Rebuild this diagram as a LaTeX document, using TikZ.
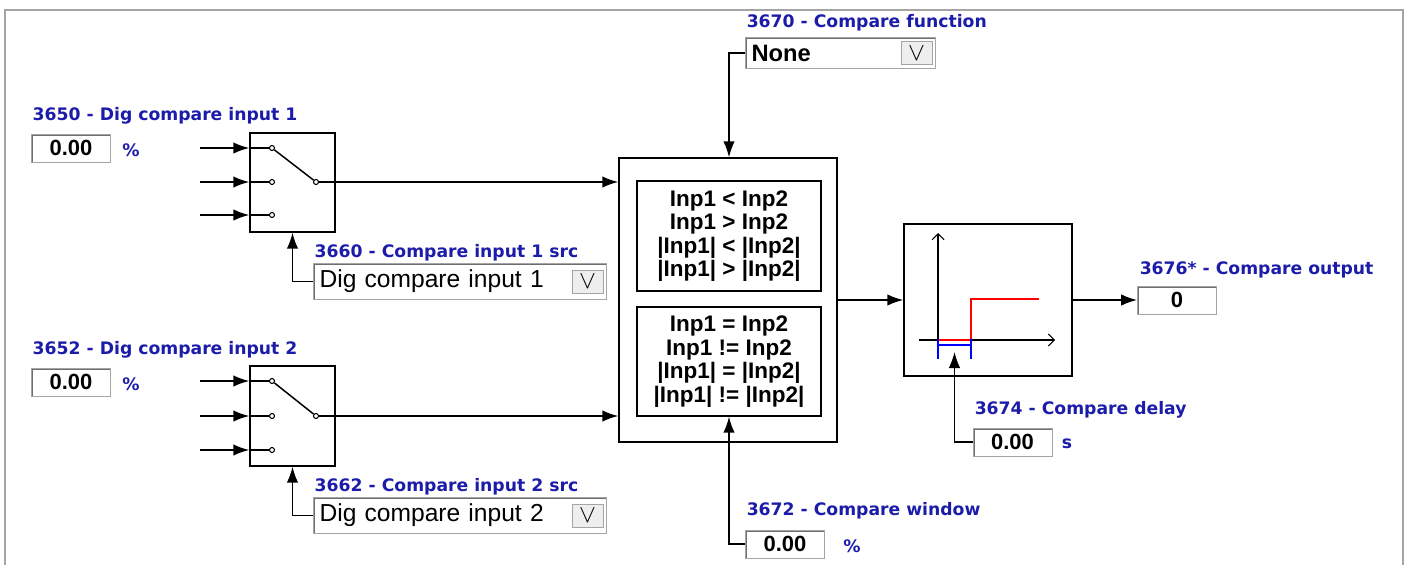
\documentclass[tikz,border=0pt]{standalone}
\usepackage{fontspec}
\setmainfont{Liberation Sans}
\newfontfamily\verdfont{DejaVu Sans}
\usetikzlibrary{arrows.meta}
\definecolor{lblblue}{RGB}{28,28,170}
\definecolor{framegray}{RGB}{165,165,165}
\definecolor{edgegray}{RGB}{110,110,110}
\definecolor{btngray}{RGB}{238,238,238}
\tikzset{
  blk/.style={draw, fill=white},
  inbox/.style={draw, align=center, inner sep=0pt, font=\bfseries\fontsize{12.8}{13.4}\selectfont},
  lbl/.style={anchor=west, inner sep=0pt, text=lblblue, font=\verdfont\bfseries\fontsize{9.8}{11}\selectfont},
  unit/.style={inner sep=0pt, text=lblblue, font=\verdfont\bfseries\fontsize{9.8}{11}\selectfont},
  sunken/.style={draw=framegray, fill=white, line width=0.5pt,
    path picture={\draw[line width=0.6mm, edgegray] (path picture bounding box.south west) -- (path picture bounding box.north west) -- (path picture bounding box.north east);}},
  field/.style={sunken, minimum width=1.58cm, minimum height=0.56cm, inner sep=0pt, font=\bfseries\fontsize{12.5}{14}\selectfont},
  dd/.style={sunken, minimum height=0.62cm, inner sep=0.13cm, align=left, font=\fontsize{14}{16}\selectfont},
  ddbtn/.style={draw=framegray, fill=btngray, line width=0.5pt, minimum width=0.62cm, minimum height=0.46cm, inner sep=0pt, font=\Large},
  pin/.style={circle, draw, fill=white, inner sep=0pt, minimum size=0.1cm, line width=0.6pt}
}
\begin{document}
\begin{tikzpicture}[x=0.02cm, y=-0.02cm, >={Latex[length=3.2mm,width=2.3mm]}, line width=0.85pt]
\useasboundingbox (0,0) rectangle (1404,565);
\draw[framegray, line width=0.4mm] (5,565) -- (5,10) -- (1403,10) -- (1403,565);

% input 1 and its selector
\node[lbl] (l3650) at (32,116) {3650 - Dig compare input 1};
\node[field] (f3650) at (71,148) {0.00};
\node[unit] (u3650) at (131,150) {\%};
\node[blk, minimum width=1.7cm, minimum height=1.98cm] (sw1) at (292.5,182.5) {};
\coordinate (i1a) at (200,148);
\coordinate (i1b) at (200,182);
\coordinate (i1c) at (200,215);
\draw[->] (i1a) -- (i1a -| sw1.west);
\draw[->] (i1b) -- (i1b -| sw1.west);
\draw[->] (i1c) -- (i1c -| sw1.west);
\draw (i1a -| sw1.west) -- (272,148);
\draw (i1b -| sw1.west) -- (272,182);
\draw (i1c -| sw1.west) -- (272,215);
\node[pin] (p1a) at (272,148) {};
\node[pin] (p1b) at (272,182) {};
\node[pin] (p1c) at (272,215) {};
\node[pin] (c1) at (316,182) {};
\draw (p1a) -- (c1);
\node[lbl] (l3660) at (314,253) {3660 - Compare input 1 src};
\node[dd, text width=5.6cm] (dd3660) at (459.5,281.5) {Dig compare input 1};
\node[ddbtn, anchor=east] (b3660) at ([xshift=-0.06cm]dd3660.east) {$\vee$};
\draw[->] (dd3660.west) -| (sw1.south);

% input 2 and its selector
\node[lbl] (l3652) at (32,350) {3652 - Dig compare input 2};
\node[field] (f3652) at (71,382) {0.00};
\node[unit] (u3652) at (131,384) {\%};
\node[blk, minimum width=1.7cm, minimum height=2cm] (sw2) at (292.5,416) {};
\coordinate (i2a) at (200,381);
\coordinate (i2b) at (200,416);
\coordinate (i2c) at (200,450);
\draw[->] (i2a) -- (i2a -| sw2.west);
\draw[->] (i2b) -- (i2b -| sw2.west);
\draw[->] (i2c) -- (i2c -| sw2.west);
\draw (i2a -| sw2.west) -- (272,381);
\draw (i2b -| sw2.west) -- (272,416);
\draw (i2c -| sw2.west) -- (272,450);
\node[pin] (p2a) at (272,381) {};
\node[pin] (p2b) at (272,416) {};
\node[pin] (p2c) at (272,450) {};
\node[pin] (c2) at (316,416) {};
\draw (p2a) -- (c2);
\node[lbl] (l3662) at (314,487) {3662 - Compare input 2 src};
\node[dd, text width=5.6cm] (dd3662) at (459.5,515.5) {Dig compare input 2};
\node[ddbtn, anchor=east] (b3662) at ([xshift=-0.06cm]dd3662.east) {$\vee$};
\draw[->] (dd3662.west) -| (sw2.south);

% comparator
\node[blk, minimum width=4.36cm, minimum height=5.68cm] (cmp) at (728,300) {};
\node[inbox, minimum width=3.68cm, minimum height=2.2cm] (cmpA) at (729,236) {Inp1 < Inp2\\Inp1 > Inp2\\|Inp1| < |Inp2|\\|Inp1| > |Inp2|};
\node[inbox, minimum width=3.68cm, minimum height=2.18cm] (cmpB) at (729,361.5) {Inp1 = Inp2\\Inp1 != Inp2\\|Inp1| = |Inp2|\\|Inp1| != |Inp2|};
\draw[->] (c1) -- (c1 -| cmp.west);
\draw[->] (c2) -- (c2 -| cmp.west);

\node[lbl] (l3670) at (746,23) {3670 - Compare function};
\node[dd, text width=3.54cm, font=\bfseries\fontsize{13.5}{15}\selectfont] (dd3670) at (840,53) {None};
\node[ddbtn, anchor=east] (b3670) at ([xshift=-0.06cm]dd3670.east) {$\vee$};
\draw[->] (dd3670.west) -| (cmpA.north |- cmp.north);

\node[lbl] (l3672) at (746,511) {3672 - Compare window};
\node[field] (f3672) at (785,544) {0.00};
\node[unit] (u3672) at (852,546) {\%};
\draw[->] (f3672.west) -| (cmpB.south);

% delay
\node[blk, minimum width=3.36cm, minimum height=3.04cm] (dly) at (988,300) {};
\draw[->] (cmp) -- (dly);
\draw[-{Straight Barb[length=1.2mm,width=2.4mm]}, line width=0.6pt] (919,340) -- (1055,340);
\draw[-{Straight Barb[length=1.2mm,width=2.4mm]}, line width=0.6pt] (938,340) -- (938,233);
\draw[red, line width=1.2pt] (938,340) -- (971,340) -- (971,299) -- (1039,299);
\draw[blue, line width=1.2pt] (938,339) -- (938,359) (971,339) -- (971,359) (938,345) -- (971,345);
\coordinate (dlyin) at (954.5,352);

\node[lbl] (l3674) at (974,410) {3674 - Compare delay};
\node[field] (f3674) at (1012.5,442) {0.00};
\node[unit] (u3674) at (1067,444) {s};
\draw[->] (f3674.west) -| (dlyin);

% output
\node[lbl] (l3676) at (1139,270) {3676* - Compare output};
\node[field] (f3676) at (1177,300) {0};
\draw[->] (dly) -- (f3676);
\end{tikzpicture}
\end{document}
